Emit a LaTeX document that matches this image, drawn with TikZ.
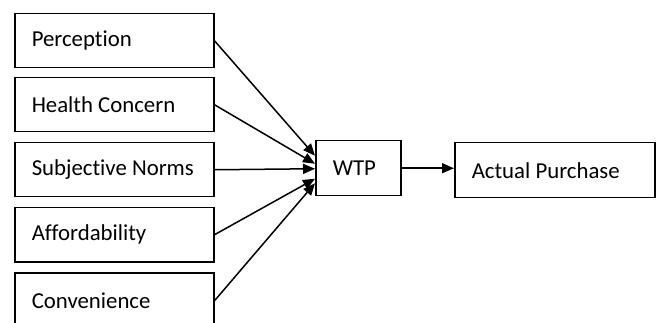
\documentclass[tikz,border=0pt]{standalone}
\usepackage{fontspec}
\setmainfont[Ligatures=NoCommon]{Carlito}
\usetikzlibrary{arrows.meta,calc}
\begin{document}
\begin{tikzpicture}[x=1pt,y=-1pt,
  box/.style={draw,line width=1.5pt,anchor=north west,minimum height=54pt,
    inner xsep=17pt,inner ysep=0pt,
    font=\fontsize{22.8}{27}\selectfont},
  link/.style={line width=1.5pt,-{Triangle[length=12pt,width=10pt]}}]
\useasboundingbox (0,0) rectangle (656,323);
\clip (0,0) rectangle (656,323);
% factor boxes
\node[box] (perc) at (14,13)  {\makebox[165pt][l]{Perception}};
\node[box] (heal) at (14,77)  {\makebox[165pt][l]{Health Concern}};
\node[box] (subj) at (14,142) {\makebox[165pt][l]{Subjective Norms}};
\node[box] (affo) at (14,207) {\makebox[165pt][l]{Affordability}};
\node[box,minimum height=56pt] (conv) at (14,272) {\makebox[165pt][l]{Convenience}};
% outcome boxes
\node[box,minimum height=55pt] (wtp) at (315,140) {\makebox[51pt][l]{WTP}};
\node[box,minimum height=55pt] (ap) at (454,142) {\makebox[166pt][l]{Actual Purchase}};
% arrow targets on the WTP box
\coordinate (t1) at ($(wtp.west)+(0,-12.5)$);
\coordinate (t2) at ($(wtp.west)+(0,-4.5)$);
\coordinate (t3) at ($(wtp.west)+(0,0.5)$);
\coordinate (t4) at ($(wtp.west)+(0,10.5)$);
\coordinate (t5) at ($(wtp.west)+(0,15)$);
\draw[link] (perc.east) -- (t1);
\draw[link] (heal.east) -- (t2);
\draw[link] (subj.east) -- (t3);
\draw[link] (affo.east) -- (t4);
\draw[link] (conv.east) -- (t5);
\draw[link] (wtp.east) -- (wtp.east -| ap.west);
\end{tikzpicture}
\end{document}
